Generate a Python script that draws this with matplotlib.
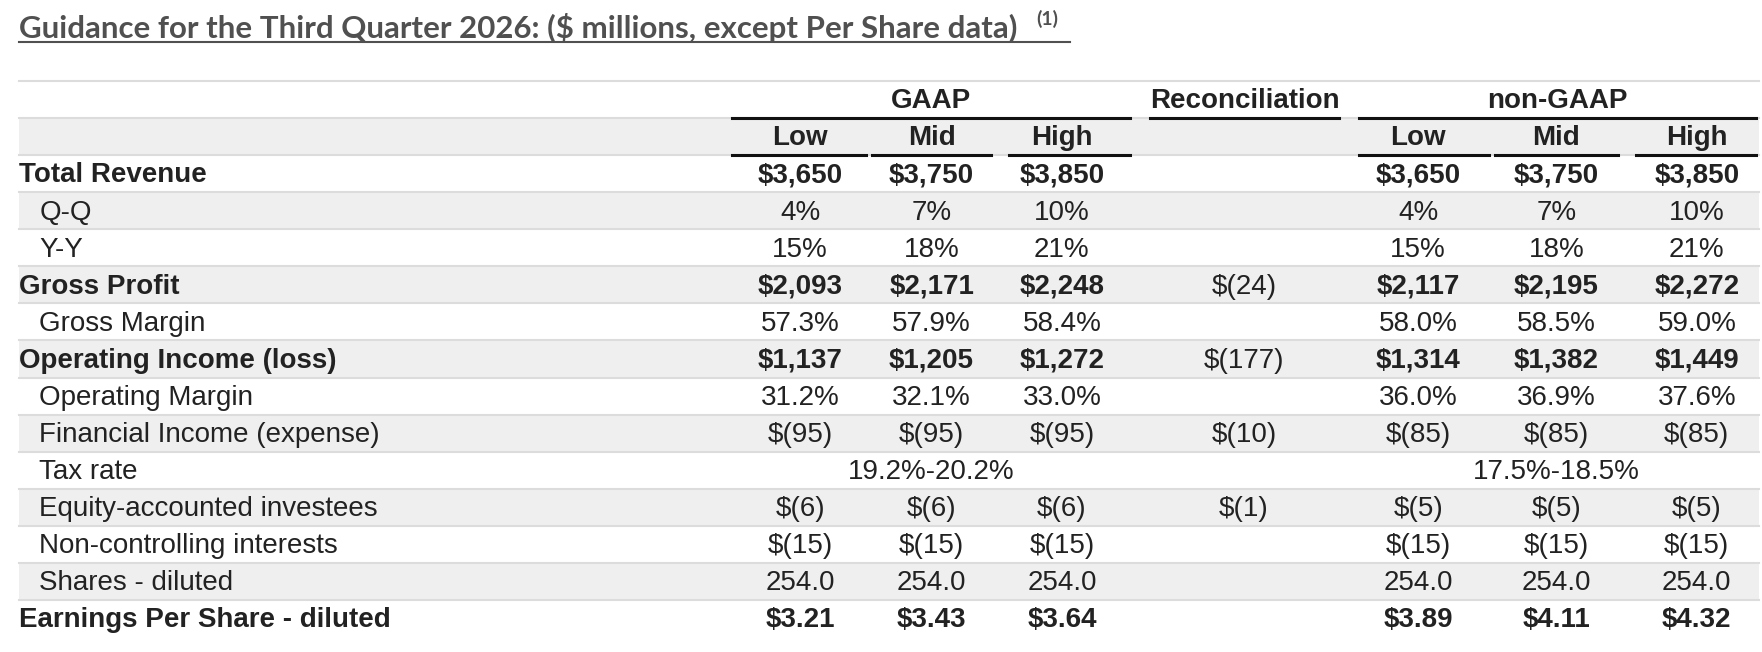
import matplotlib
matplotlib.use("Agg")
import matplotlib.pyplot as plt

title = "Guidance for the Third Quarter 2026: ($ millions, except Per Share data)"
groups = ["GAAP", "Reconciliation", "non-GAAP"]
sub_cols = ["Low", "Mid", "High", "", "Low", "Mid", "High"]

row_labels = ["Total Revenue", "Q-Q", "Y-Y", "Gross Profit", "Gross Margin",
              "Operating Income (loss)", "Operating Margin", "Financial Income (expense)",
              "Tax rate", "Equity-accounted investees", "Non-controlling interests",
              "Shares - diluted", "Earnings Per Share - diluted"]
row_bold = [True, False, False, True, False, True, False, False, False, False, False, False, True]

gaap_low = ["$3,650", "4%", "15%", "$2,093", "57.3%", "$1,137", "31.2%", "$(95)", "", "$(6)", "$(15)", "254.0", "$3.21"]
gaap_mid = ["$3,750", "7%", "18%", "$2,171", "57.9%", "$1,205", "32.1%", "$(95)", "19.2%-20.2%", "$(6)", "$(15)", "254.0", "$3.43"]
gaap_high = ["$3,850", "10%", "21%", "$2,248", "58.4%", "$1,272", "33.0%", "$(95)", "", "$(6)", "$(15)", "254.0", "$3.64"]
recon = ["", "", "", "$(24)", "", "$(177)", "", "$(10)", "", "$(1)", "", "", ""]
ng_low = ["$3,650", "4%", "15%", "$2,117", "58.0%", "$1,314", "36.0%", "$(85)", "", "$(5)", "$(15)", "254.0", "$3.89"]
ng_mid = ["$3,750", "7%", "18%", "$2,195", "58.5%", "$1,382", "36.9%", "$(85)", "17.5%-18.5%", "$(5)", "$(15)", "254.0", "$4.11"]
ng_high = ["$3,850", "10%", "21%", "$2,272", "59.0%", "$1,449", "37.6%", "$(85)", "", "$(5)", "$(15)", "254.0", "$4.32"]
columns = [gaap_low, gaap_mid, gaap_high, recon, ng_low, ng_mid, ng_high]
col_bold = [True, True, True, False, True, True, True]

W, H = 1762, 652
s = 1762 / 1568
col_cx = [c * s for c in [712, 829, 945, 1107, 1262, 1385, 1510]]
col_span = [(a * s, b * s) for a, b in [(651, 771), (776, 882), (898, 1006), (1023, 1192),
                                        (1209, 1325), (1330, 1440), (1456, 1563)]]
x0, x1 = 17 * s, 1565 * s
top = 72 * s
rh = 33 * s

fig = plt.figure(figsize=(W / 100, H / 100), dpi=100)
ax = fig.add_axes([0, 0, 1, 1])
ax.set_xlim(0, W)
ax.set_ylim(H, 0)
ax.axis("off")

font = "Liberation Sans"
fs = 20

t = ax.text(x0, 25 * s, title, family="Lato", fontsize=22.5, color="#505050",
            weight="bold", va="center", ha="left")
ax.text(922 * s, 17 * s, "(1)", family="Lato", fontsize=14, color="#505050",
        weight="bold", va="center", ha="left")
ax.plot([x0, 952 * s], [37 * s, 37 * s], color="#505050", lw=1.5)

n_rows = 2 + len(row_labels)
for r in range(n_rows):
    y = top + r * rh
    if r % 2 == 1:
        ax.fill_between([x0, x1], y, y + rh, color="#efefef", lw=0)
    ax.plot([x0, x1], [y, y], color="#dcdcdc", lw=1.5)

# group headers
yc = top + rh * 0.55
gspans = [(col_span[0][0], col_span[2][1]), col_span[3], (col_span[4][0], col_span[6][1])]
for g, (a, b) in zip(groups, gspans):
    ax.text((a + b) / 2, yc, g, family=font, fontsize=fs, weight="bold", ha="center", va="center", color="#222")
    ax.plot([a, b], [top + rh, top + rh], color="#111", lw=2.2)
yc = top + rh * 1.55
for c, (sc, (a, b)) in enumerate(zip(sub_cols, col_span)):
    if sc:
        ax.text(col_cx[c], yc, sc, family=font, fontsize=fs, weight="bold", ha="center", va="center", color="#222")
        ax.plot([a, b], [top + 2 * rh, top + 2 * rh], color="#111", lw=2.2)

for i, lab in enumerate(row_labels):
    yc = top + (i + 2.55) * rh
    w = "bold" if row_bold[i] else "normal"
    ax.text(x0 + (0 if row_bold[i] else 18 * s), yc, lab, family=font, fontsize=fs, weight=w,
            ha="left", va="center", color="#222")
    for c, col in enumerate(columns):
        if col[i]:
            cw = w if col_bold[c] else "normal"
            ax.text(col_cx[c], yc, col[i], family=font, fontsize=fs, weight=cw,
                    ha="center", va="center", color="#222")

fig.savefig("out.png", dpi=100)
